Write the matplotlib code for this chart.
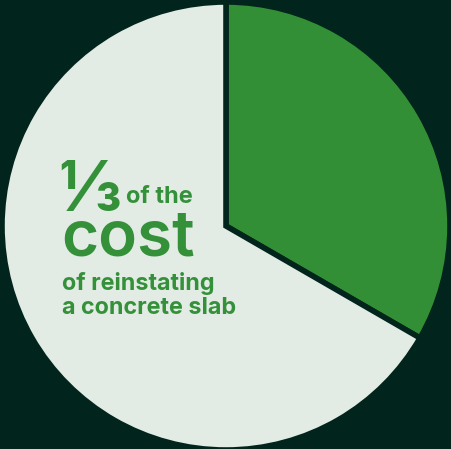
import matplotlib
matplotlib.use('Agg')
import matplotlib.pyplot as plt

# data
labels = ['reinstating cost share', 'rest']
values = [1, 2]
colors = ['#338f35', '#e3ece4']
bg = '#01241c'
txt_green = '#34913a'

W, H = 452, 449
fig = plt.figure(figsize=(W / 100, H / 100), dpi=100)
fig.patch.set_facecolor(bg)
ax = fig.add_axes([0, 0, 1, 1])
ax.set_facecolor(bg)

ax.pie(values, colors=colors, startangle=90, counterclock=False,
       center=(226, H - 226), radius=224, frame=True,
       wedgeprops=dict(edgecolor=bg, linewidth=4))
ax.set_xlim(0, W)
ax.set_ylim(0, H)
ax.set_aspect('equal')
ax.axis('off')


def put(x, y, s, size, weight='bold'):
    # y given in pixels from the top
    ax.text(x, H - y, s, fontsize=size, fontweight=weight, color=txt_green,
            family=['Inter', 'DejaVu Sans'], va='baseline', ha='left', zorder=10)


put(58, 211, '\u2153', 50)
put(126, 203, 'of the', 17)
put(61, 256, 'cost', 46, 'semibold')
put(62, 290, 'of reinstating', 16.8)
put(62, 314, 'a concrete slab', 16.8)

fig.savefig('out.png', dpi=100, facecolor=bg)
